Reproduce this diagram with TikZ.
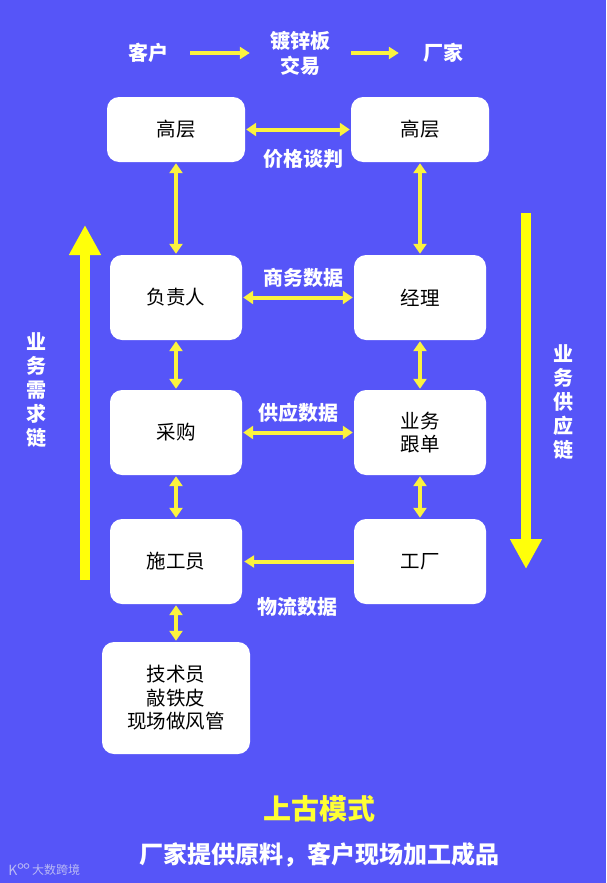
\documentclass[tikz,border=0pt]{standalone}
\usepackage{fontspec}
\setmainfont{Noto Sans CJK SC}
\usetikzlibrary{arrows.meta}
\definecolor{bgblue}{HTML}{5655F8}
\definecolor{ylw}{HTML}{FFFF33}
\definecolor{ylwlink}{HTML}{FBF33F}
\definecolor{ylwbig}{HTML}{FFFF0A}
\definecolor{wmark}{HTML}{B9B9F4}
\tikzset{
  x=1pt,y=-1pt,
  box/.style={fill=white,rounded corners=12pt,inner sep=0pt,align=center,font=\fontsize{19.5}{23.5}\selectfont,text=black},
  lbl/.style={text=white,inner sep=0pt,align=center,font=\fontsize{20}{25}\selectfont\bfseries},
  toplbl/.style={text=white,inner sep=0pt,align=center,font=\fontsize{20}{25}\selectfont\bfseries},
  side/.style={text=white,inner sep=0pt,align=center,font=\fontsize{20}{24}\selectfont\bfseries},
  link/.style={draw=ylwlink,line width=4pt,{Triangle[width=13pt,length=10pt]}-{Triangle[width=13pt,length=10pt]},shorten >=1pt,shorten <=1pt},
  flow/.style={draw=ylwlink,line width=4pt,-{Triangle[width=12pt,length=10pt]}},
  big/.style={draw=ylwbig,line width=10.5pt,-{Triangle[width=30pt,length=30pt]}},
}
\begin{document}
\begin{tikzpicture}
\fill[bgblue] (0,0) rectangle (606,883);
\useasboundingbox (0,0) rectangle (606,883);
% top row
\node[toplbl] (kehu) at (148,53) {客户};
\node[toplbl] (jiaoyi) at (300,53) {镀锌板\\交易};
\node[toplbl] (changjia) at (443,53) {厂家};
\draw[flow,shorten <=22pt,shorten >=20pt] (kehu) -- (jiaoyi);
\draw[flow,shorten <=21pt,shorten >=24pt] (jiaoyi) -- (changjia);
% boxes
\node[box,minimum width=138pt,minimum height=65pt] (gl) at (176,129.5) {高层};
\node[box,minimum width=138pt,minimum height=65pt] (gr) at (420,129.5) {高层};
\node[box,minimum width=132pt,minimum height=85pt] (fzr) at (176,297.5) {负责人};
\node[box,minimum width=132pt,minimum height=85pt] (jl) at (420,297.5) {经理};
\node[box,minimum width=132pt,minimum height=85pt] (cg) at (176,432.5) {采购};
\node[box,minimum width=132pt,minimum height=85pt] (yw) at (420,432.5) {业务\\跟单};
\node[box,minimum width=132pt,minimum height=85pt] (sg) at (176,561.5) {施工员};
\node[box,minimum width=132pt,minimum height=85pt] (gc) at (420,561.5) {工厂};
\node[box,minimum width=148pt,minimum height=112pt] (js) at (176,698) {技术员\\敲铁皮\\现场做风管};
% connectors
\draw[link] (gl) -- (gr);
\draw[link] (gl) -- (fzr);
\draw[link] (gr) -- (jl);
\draw[link] (fzr) -- (jl);
\draw[link] (fzr) -- (cg);
\draw[link] (jl) -- (yw);
\draw[link] (cg) -- (yw);
\draw[link] (cg) -- (sg);
\draw[link] (yw) -- (gc);
\draw[link] (sg) -- (js);
\draw[flow,shorten >=2pt] (gc) -- (sg);
% connector labels
\node[lbl] (l1) at (303.5,159) {价格谈判};
\node[lbl] (l2) at (303.5,278) {商务数据};
\node[lbl] (l3) at (298.5,413) {供应数据};
\node[lbl] (l4) at (297.5,607) {物流数据};
% big arrows
\coordinate (ua) at (85,580);
\coordinate (ub) at (85,225);
\coordinate (da) at (526,213);
\coordinate (db) at (526,569);
\draw[big] (ua) -- (ub);
\draw[big] (da) -- (db);
\node[side] (sl) at (36,390) {业\\务\\需\\求\\链};
\node[side] (sr) at (563,402) {业\\务\\供\\应\\链};
% bottom
\node[inner sep=0pt,text=ylw,font=\fontsize{28}{32}\selectfont\bfseries] (title) at (319,809) {上古模式};
\node[inner sep=0pt,text=white,font=\fontsize{24}{30}\selectfont\bfseries] (sub) at (319,855) {厂家提供原料，客户现场加工成品};
% watermark
\node[inner sep=0pt,text=wmark,font=\fontsize{12}{15}\selectfont] (wm) at (56,870) {大数跨境};
\node[inner sep=0pt,text=wmark,font=\fontsize{14}{15}\selectfont] (wk) at (13,870) {K};
\draw[wmark,line width=.8pt] (20.5,866) circle (2.4pt) (26.5,866) circle (2.4pt);
\end{tikzpicture}
\end{document}
